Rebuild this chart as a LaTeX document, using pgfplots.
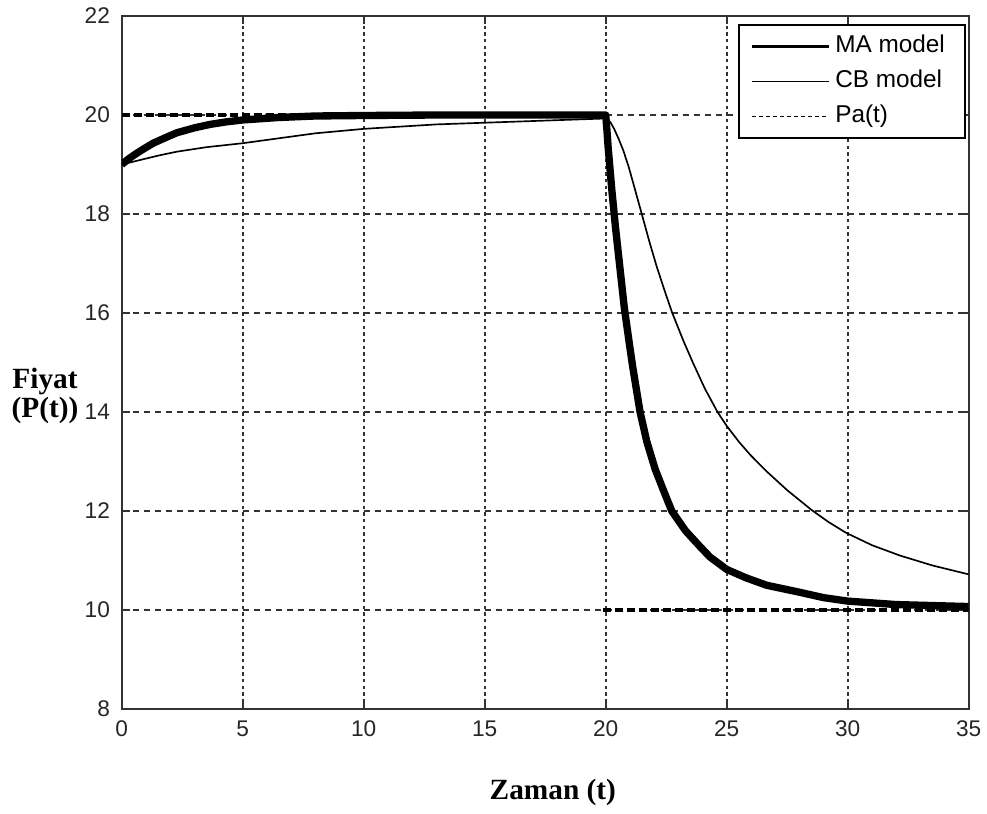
\documentclass[border=0pt]{standalone}
\usepackage{fontspec}
\setmainfont{Liberation Sans}
\newfontfamily\timesfont{Liberation Serif}
\usepackage{pgfplots}
\pgfplotsset{compat=1.18}
\begin{document}
\begin{tikzpicture}
\begin{axis}[
  at={(0pt,0pt)}, anchor=south west,
  scale only axis, width=254.1pt, height=207.9pt,
  xmin=0, xmax=35, ymin=8, ymax=22,
  clip mode=individual,
  xtick={0,5,10,15,20,25,30,35},
  ytick={8,10,12,14,16,18,20,22},
  tick align=inside, major tick length=2.4pt,
  axis line style={black!80, line width=0.6pt},
  every tick/.style={black!80, line width=0.5pt},
  grid=major,
  x grid style={black!80, line width=0.6pt, dash pattern=on 1pt off 1pt},
  y grid style={black!80, line width=0.55pt, dash pattern=on 1.8pt off 1.5pt},
  ticklabel style={font=\fontsize{6.8}{8}\selectfont, text=black!85},
  /pgf/number format/assume math mode=true,
  legend image code/.code={\draw[#1] (0pt,0pt) -- (23.1pt,0pt);},
  legend cell align=left,
  legend style={at={(axis description cs:0.7272,0.9885)}, anchor=north west,
    draw=black, line width=0.6pt, fill=white,
    inner xsep=3.5pt, inner ysep=1.2pt, column sep=1.3pt, row sep=0pt,
    font=\fontsize{7.3}{8}\selectfont,
    nodes={inner sep=0pt, text height=7pt, text depth=3.5pt}},
]
% Pa(t)
\addplot[forget plot, black, line width=1.2pt, dash pattern=on 2.4pt off 1.2pt] coordinates {(0,20) (20,20)};
\addplot[forget plot, black, line width=1.2pt, dash pattern=on 2.4pt off 1.2pt] coordinates {(19.9,10) (35,10)};
% CB model
\addplot[forget plot, black, line width=0.5pt, line join=round] coordinates {
(0,19) (0.5,19.06) (1,19.12) (1.6,19.19) (2.29,19.26) (3.5,19.35) (5,19.43) (6.5,19.53) (8,19.63)
(10,19.72) (13,19.81) (16.5,19.87) (20,19.93)
(20.08,19.92) (20.2,19.85) (20.35,19.72) (20.55,19.5) (20.73,19.28) (20.95,18.95) (21.14,18.62)
(21.49,18.0) (21.8,17.45) (22.1,16.95) (22.4,16.5) (22.75,16.0) (23.2,15.45)
(23.6,15.0) (24.1,14.47) (24.62,14.0) (25,13.72) (25.5,13.4) (26.0,13.12)
(26.65,12.8) (27.5,12.42) (28.51,12.02) (29.2,11.78) (29.93,11.56) (31,11.31)
(32.16,11.1) (33.5,10.9) (35,10.72)};
% MA model
\addplot[forget plot, black, line width=2.2pt, line join=round] coordinates {
(0,19) (0.3,19.12) (0.6,19.22) (0.89,19.31) (1.3,19.43) (1.8,19.54) (2.27,19.64)
(3,19.74) (3.65,19.81) (4.3,19.86) (5,19.9) (6.5,19.95) (8,19.98) (10,19.99) (13,20) (20,20)
(20.05,19.7) (20.1,19.35) (20.25,18.5) (20.4,17.75) (20.59,16.9) (20.77,16.1) (21.0,15.3)
(21.12,14.9) (21.42,14.0) (21.7,13.4) (22.04,12.85) (22.4,12.4) (22.73,12.0)
(23.3,11.6) (23.9,11.28) (24.31,11.07) (25,10.82) (25.8,10.65) (26.65,10.5)
(28,10.36) (29,10.25) (30,10.18) (32,10.11) (35,10.07)};
\addlegendimage{black, line width=1.1pt}
\addlegendentry{MA model\kern2.5pt}
\addlegendimage{black, line width=0.5pt}
\addlegendentry{CB model}
\addlegendimage{black, line width=0.5pt, dash pattern=on 1.2pt off 0.9pt}
\addlegendentry{Pa(t)}
\node[font=\fontsize{8.8}{8.6}\selectfont\timesfont\bfseries, align=center]
  at (axis description cs:-0.0905,0.4517) {Fiyat\\(P(t))};
\node[font=\fontsize{8.8}{8.6}\selectfont\timesfont\bfseries]
  at (axis description cs:0.509,-0.121) {Zaman (t)};
\end{axis}
\pgfresetboundingbox
\path[use as bounding box] (-36.51pt,-31.2pt) rectangle (259.59pt,212.7pt);
\end{tikzpicture}
\end{document}
